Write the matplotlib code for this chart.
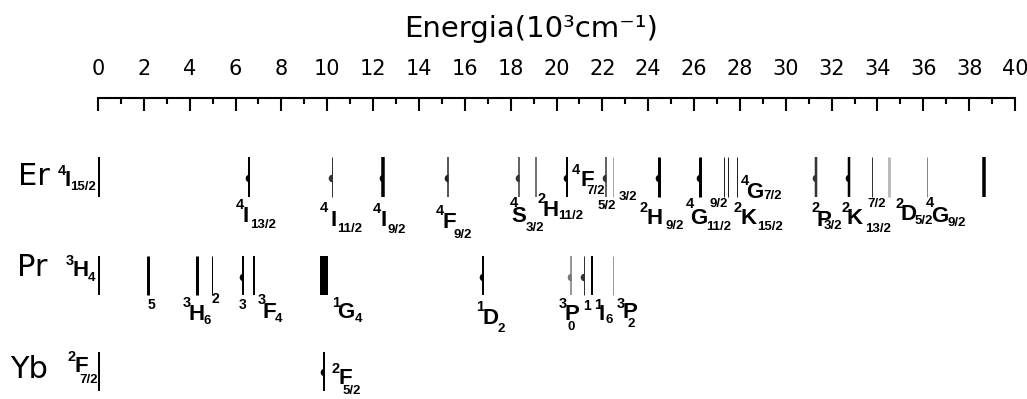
import matplotlib
matplotlib.use('Agg')
import matplotlib.pyplot as plt
from matplotlib.transforms import Affine2D

# níveis de energia (10^3 cm^-1)
er_levels = [0, 6.57, 10.22, 12.44, 15.28, 18.37, 19.09, 20.45, 22.14, 22.47,
             24.46, 26.25, 27.30, 27.49, 27.87, 31.30, 32.77, 33.78, 34.50,
             36.14, 38.64]
pr_levels = [0, 2.17, 4.32, 4.97, 6.32, 6.80, 9.87, 16.80, 20.63, 21.21,
             21.56, 22.45]
yb_levels = [0, 9.86]

# termos espectroscópicos (sobrescrito, letra, subscrito)
er_terms = [('4', 'I', '15/2'), ('4', 'I', '13/2'), ('4', 'I', '11/2'),
            ('4', 'I', '9/2'), ('4', 'F', '9/2'), ('4', 'S', '3/2'),
            ('2', 'H', '11/2'), ('4', 'F', '7/2'), ('2', 'H', '9/2'),
            ('4', 'G', '11/2'), ('2', 'K', '15/2'), ('4', 'G', '7/2'),
            ('2', 'P', '3/2'), ('2', 'K', '13/2'), ('2', 'D', '5/2'),
            ('4', 'G', '9/2')]
er_extra = ['5/2', '3/2', '9/2', '7/2']
pr_terms = [('3', 'H', '4'), ('3', 'H', '6'), ('3', 'F', '4'), ('1', 'G', '4'),
            ('1', 'D', '2'), ('3', 'P', '0'), ('1', 'I', '6'), ('3', 'P', '2')]
pr_extra = ['5', '2', '3', '1']
yb_terms = [('2', 'F', '7/2'), ('2', 'F', '5/2')]

# estilo das linhas (espessura em px, cor, ponto lateral)
er_lw = [4, 2, 1, 3.5, 1.5, 1.5, 1.5, 2, 1.5, 1, 3, 3, 1, 1, 1, 2.5, 2.5, 1, 3, 1, 3.5]
er_col = ['k', 'k', '#333', 'k', '#222', '#333', '#444', 'k', '#333', '#aaa',
          'k', 'k', '#222', '#222', '#222', '#333', 'k', '#333', '#bbb', '#888', 'k']
er_dot = [0, 1, 1, 1, 1, 1, 0, 1, 1, 0, 1, 1, 0, 0, 0, 1, 1, 0, 0, 0, 0]
pr_lw = [4, 3, 3, 1, 2, 2, 8, 2, 1.5, 1, 2, 1]
pr_col = ['k', 'k', 'k', 'k', 'k', 'k', 'k', 'k', '#777', '#333', 'k', '#999']
pr_dot = [0, 0, 0, 0, 1, 0, 1, 1, 1, 1, 0, 0]
yb_lw = [4, 2]
yb_col = ['k', 'k']
yb_dot = [0, 1]

# posições dos rótulos em pixels: (sobrescrito, letra, subscrito)
er_pos = [((58, 171), (64, 180), (70, 187)), ((236, 205), (243, 216), (250, 225)),
          ((320, 208), (330, 220), (337, 229)), ((373, 209), (381, 221), (387, 230)),
          ((436, 211), (443, 223), (454, 235)), ((510, 203), (511, 216), (526, 228)),
          ((537, 199), (543, 210), (558, 216)), ((572, 170), (580, 180), (586, 191)),
          ((640, 208), (646, 219), (665, 226)), ((686, 204), (690, 218), (706, 227)),
          ((734, 208), (740, 218), (757, 227)), ((741, 181), (746, 192), (763, 196)),
          ((812, 208), (816, 220), (824, 226)), ((841, 208), (847, 219), (865, 229)),
          ((895, 204), (901, 215), (915, 221)), ((926, 203), (931, 217), (948, 223))]
er_extra_pos = [(598, 206), (619, 197), (710, 204), (867, 204)]
pr_pos = [((66, 261), (72, 271), (88, 278)), ((183, 303), (189, 315), (203, 321)),
          ((258, 300), (263, 312), (275, 319)), ((332, 303), (337, 313), (355, 319)),
          ((476, 307), (482, 319), (497, 329)), ((559, 304), (564, 314), (567, 327)),
          ((594, 305), (598, 314), (605, 320)), ((617, 304), (622, 313), (628, 324))]
pr_extra_pos = [(148, 305), (212, 299), (239, 305), (583, 306)]
yb_pos = [((67, 357), (74, 366), (79, 380)), ((332, 369), (338, 378), (343, 391))]

W, H = 1027, 399
fig = plt.figure(figsize=(W / 100, H / 100), dpi=100)
ax = fig.add_axes([98 / W, 0, 917 / W, 301 / H])
ax.set_xlim(0, 40)
ax.set_ylim(H, 98)
ax.patch.set_alpha(0)

# régua de energia no topo
for s in ['left', 'right', 'bottom']:
    ax.spines[s].set_visible(False)
ax.spines['top'].set_linewidth(1.5)
ax.xaxis.tick_top()
ax.set_xticks(range(0, 41, 2))
ax.set_xticks(range(0, 41, 1), minor=True)
ax.tick_params(axis='x', which='both', direction='in', width=1.5,
               labelsize=15, pad=14)
ax.tick_params(axis='x', which='major', length=9.5)
ax.tick_params(axis='x', which='minor', length=4.5)
ax.set_yticks([])

px = Affine2D().scale(1, -1).translate(0, H)
fig.text(531, 37, 'Energia(10³cm⁻¹)', transform=px, fontsize=21,
         ha='center', va='baseline')

rows = [('Er', er_levels, er_lw, er_col, er_dot, (157, 197), 178, 185, 18),
        ('Pr', pr_levels, pr_lw, pr_col, pr_dot, (256, 295), 277, 276, 17),
        ('Yb', yb_levels, yb_lw, yb_col, yb_dot, (352, 391), 372, 378, 10)]

for name, levels, lw, col, dot, (y0, y1), ydot, ybase, xname in rows:
    ax.vlines(levels, y0, y1, linewidths=[w * 0.72 for w in lw], colors=col)
    for e, c, d in zip(levels, col, dot):
        if d:
            ax.plot(e, ydot, marker='o', ms=5.5, mew=0, color=c,
                    fillstyle='left', markerfacecoloralt='none')
    fig.text(xname, ybase, name, transform=px, fontsize=22, va='baseline')


def term(parts, pos):
    sup, main, sub = parts
    for t, (x, y), fs in zip((sup, main, sub), pos, (10.5, 16, 9.5)):
        fig.text(x, y, t, transform=px, fontsize=fs, fontweight='bold',
                 family='Liberation Sans', ha='left', va='center')


for terms, pos in [(er_terms, er_pos), (pr_terms, pr_pos), (yb_terms, yb_pos)]:
    for parts, p in zip(terms, pos):
        term(parts, p)

for extra, pos, fs in [(er_extra, er_extra_pos, 9.5), (pr_extra, pr_extra_pos, 10)]:
    for t, (x, y) in zip(extra, pos):
        fig.text(x, y, t, transform=px, fontsize=fs, fontweight='bold',
                 family='Liberation Sans', ha='left', va='center')

fig.savefig('out.png', dpi=100)
